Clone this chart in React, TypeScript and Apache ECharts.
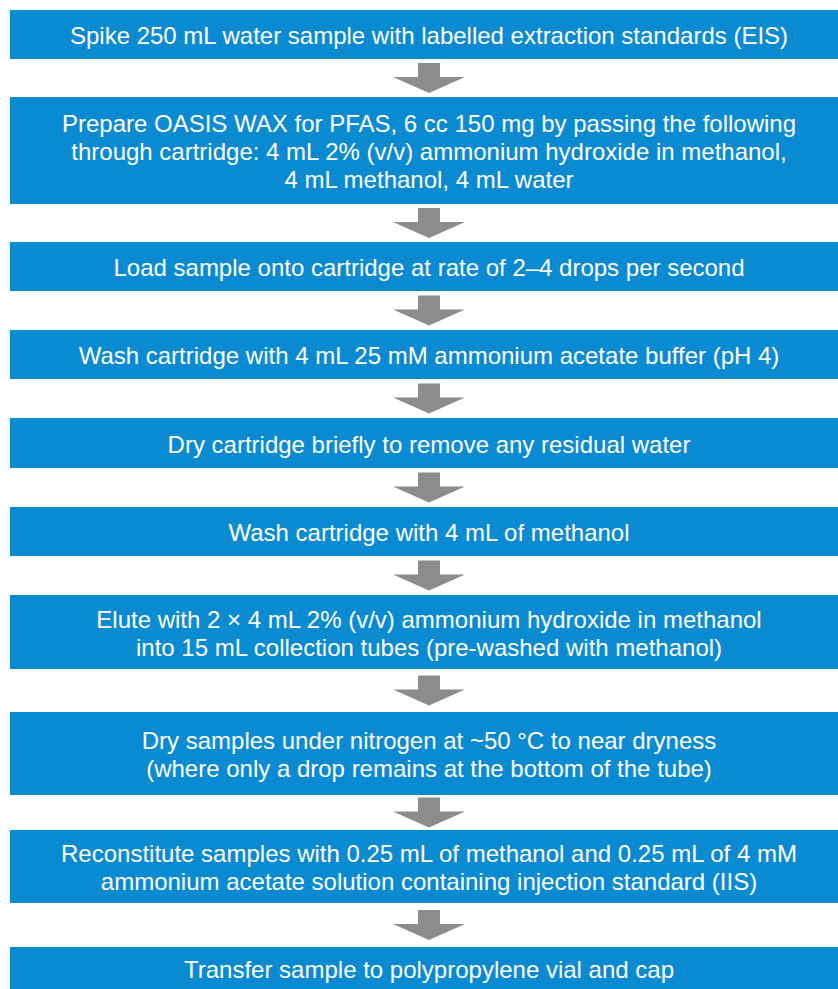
import React, { useEffect, useRef } from "react";
import * as echarts from "echarts";

// Step texts (one entry per box, lines separated)
const stepLines: string[][] = [
  ["Spike 250 mL water sample with labelled extraction standards (EIS)"],
  [
    "Prepare OASIS WAX for PFAS, 6 cc 150 mg by passing the following",
    "through cartridge: 4 mL 2% (v/v) ammonium hydroxide in methanol,",
    "4 mL methanol, 4 mL water",
  ],
  ["Load sample onto cartridge at rate of 2\u20134 drops per second"],
  ["Wash cartridge with 4 mL 25 mM ammonium acetate buffer (pH 4)"],
  ["Dry cartridge briefly to remove any residual water"],
  ["Wash cartridge with 4 mL of methanol"],
  [
    "Elute with 2 \u00d7 4 mL 2% (v/v) ammonium hydroxide in methanol",
    "into 15 mL collection tubes (pre-washed with methanol)",
  ],
  [
    "Dry samples under nitrogen at ~50 \u00b0C to near dryness",
    "(where only a drop remains at the bottom of the tube)",
  ],
  [
    "Reconstitute samples with 0.25 mL of methanol and 0.25 mL of 4 mM",
    "ammonium acetate solution containing injection standard (IIS)",
  ],
  ["Transfer sample to polypropylene vial and cap"],
];

// Layout (pixel positions of box tops / bottoms)
const boxTops = [10, 97, 242, 330, 418, 507, 595, 712, 830, 947];
const boxBottoms = [59, 204, 291, 379, 468, 556, 669, 795, 903, 990];

const BOX_COLOR = "#0a8bd1";
const ARROW_COLOR = "#8c8c8c";
const BOX_X = 10;
const BOX_W = 840;
const CX = 429;

export default function App() {
  const ref = useRef<HTMLDivElement>(null);
  useEffect(() => {
    if (!ref.current) return;
    const chart = echarts.init(ref.current, undefined, { renderer: "svg" });
    const elements: any[] = [];
    stepLines.forEach((lines, i) => {
      const top = boxTops[i];
      const bottom = boxBottoms[i];
      elements.push({
        type: "rect",
        shape: { x: BOX_X, y: top, width: BOX_W, height: bottom - top },
        style: { fill: BOX_COLOR },
      });
      elements.push({
        type: "text",
        x: CX,
        y: (top + bottom) / 2 + 1,
        style: {
          text: lines.join("\n"),
          fill: "#ffffff",
          font: '24px "Liberation Sans", Arial, sans-serif',
          textAlign: "center",
          textVerticalAlign: "middle",
          lineHeight: 28,
        },
      });
      if (i < stepLines.length - 1) {
        const gapTop = bottom;
        const gapBot = boxTops[i + 1];
        const total = 30;
        const y0 = (gapTop + gapBot) / 2 - total / 2;
        const shaftH = 14;
        const sw = 11;
        const hw = 36;
        elements.push({
          type: "polygon",
          shape: {
            points: [
              [CX - sw, y0],
              [CX + sw, y0],
              [CX + sw, y0 + shaftH],
              [CX + hw, y0 + shaftH],
              [CX, y0 + total],
              [CX - hw, y0 + shaftH],
              [CX - sw, y0 + shaftH],
            ],
          },
          style: { fill: ARROW_COLOR },
        });
      }
    });
    chart.setOption({
      animation: false,
      backgroundColor: "#ffffff",
      graphic: { elements },
    });
    return () => chart.dispose();
  }, []);
  return (
    <div
      ref={ref}
      style={{ position: "absolute", left: 0, top: 0, width: 838, height: 989 }}
    />
  );
}
